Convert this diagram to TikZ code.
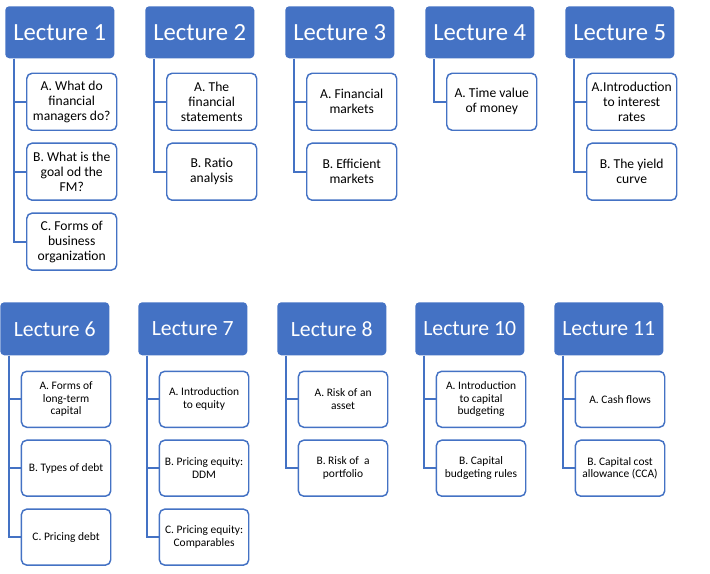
\documentclass[tikz,border=0pt]{standalone}
\usepackage{fontspec}
\setmainfont{Carlito}
\usepackage{xcolor}
\usetikzlibrary{positioning}

\definecolor{lecblue}{HTML}{4472C4}

\begin{document}
\begin{tikzpicture}[
  x=0.75pt, y=-0.75pt,
  node distance=8.6pt,
  headbox/.style={fill=lecblue, rounded corners=3pt, text=white,
                  minimum width=81.75pt, inner sep=0pt, anchor=north west},
  tophead/.style={headbox, minimum height=39pt, font=\fontsize{18.5}{20}\selectfont},
  lowhead/.style={headbox, minimum height=39.75pt, font=\fontsize{16.3}{18}\selectfont},
  topic/.style={draw=lecblue, line width=1.1pt, fill=white, rounded corners=4pt,
                align=center, inner sep=0pt},
  toptopic/.style={topic, minimum width=67.5pt, minimum height=42.75pt,
                   font=\fontsize{10.2}{11.25}\selectfont},
  lowtopic/.style={topic, minimum width=67pt, minimum height=42pt,
                   font=\fontsize{8.6}{9.5}\selectfont},
  trunk/.style={draw=lecblue, line width=1.5pt},
]
\useasboundingbox (0,0) rectangle (710,574);

% top row
\node[tophead] (l1) at (5,6)   {Lecture 1};
\node[tophead] (l2) at (145,6) {Lecture 2};
\node[tophead] (l3) at (285,6) {Lecture 3};
\node[tophead] (l4) at (425,6) {Lecture 4};
\node[tophead] (l5) at (565,6) {Lecture 5};

\node[toptopic, below right=10.5pt and 15.75pt of l1.south west] (l1a) {A. What do\\financial\\managers do?};
\node[toptopic, below=of l1a] (l1b) {B. What is the\\goal od the\\FM?};
\node[toptopic, below=of l1b] (l1c) {C. Forms of\\business\\organization};

\node[toptopic, below right=10.5pt and 15.75pt of l2.south west] (l2a) {A. The\\financial\\statements};
\node[toptopic, below=of l2a] (l2b) {B. Ratio\\analysis};

\node[toptopic, below right=10.5pt and 15.75pt of l3.south west] (l3a) {A. Financial\\markets};
\node[toptopic, below=of l3a] (l3b) {B. Efficient\\markets};

\node[toptopic, below right=10.5pt and 15.75pt of l4.south west] (l4a) {A. Time value\\of money};

\node[toptopic, below right=10.5pt and 15.75pt of l5.south west] (l5a) {A.Introduction\\to interest\\rates};
\node[toptopic, below=of l5a] (l5b) {B. The yield\\curve};

% bottom row
\node[lowhead] (l6)  at (0,302)   {Lecture 6};
\node[lowhead] (l7)  at (138,302) {Lecture 7};
\node[lowhead] (l8)  at (277,302) {Lecture 8};
\node[lowhead] (l10) at (415,302) {Lecture 10};
\node[lowhead] (l11) at (554,302) {Lecture 11};

\node[lowtopic, below right=11.25pt and 15.5pt of l6.south west] (l6a) {A. Forms of\\long-term\\capital};
\node[lowtopic, below=of l6a] (l6b) {B. Types of debt};
\node[lowtopic, below=of l6b] (l6c) {C. Pricing debt};

\node[lowtopic, below right=11.25pt and 15.5pt of l7.south west] (l7a) {A. Introduction\\to equity};
\node[lowtopic, below=of l7a] (l7b) {B. Pricing equity:\\DDM};
\node[lowtopic, below=of l7b] (l7c) {C. Pricing equity:\\Comparables};

\node[lowtopic, below right=11.25pt and 15.5pt of l8.south west] (l8a) {A. Risk of an\\asset};
\node[lowtopic, below=of l8a] (l8b) {B. Risk of~~a\\portfolio};

\node[lowtopic, below right=11.25pt and 15.5pt of l10.south west] (l10a) {A. Introduction\\to capital\\budgeting};
\node[lowtopic, below=of l10a] (l10b) {B. Capital\\budgeting rules};

\node[lowtopic, below right=11.25pt and 15.5pt of l11.south west] (l11a) {A. Cash flows};
\node[lowtopic, below=of l11a] (l11b) {B. Capital cost\\allowance (CCA)};

% connectors
\foreach \h/\t in {l1/l1a, l1/l1b, l1/l1c, l2/l2a, l2/l2b, l3/l3a, l3/l3b,
                   l4/l4a, l5/l5a, l5/l5b, l6/l6a, l6/l6b, l6/l6c,
                   l7/l7a, l7/l7b, l7/l7c, l8/l8a, l8/l8b,
                   l10/l10a, l10/l10b, l11/l11a, l11/l11b}
  \draw[trunk] ([xshift=7pt]\h.south west) |- (\t.west);

\end{tikzpicture}
\end{document}
